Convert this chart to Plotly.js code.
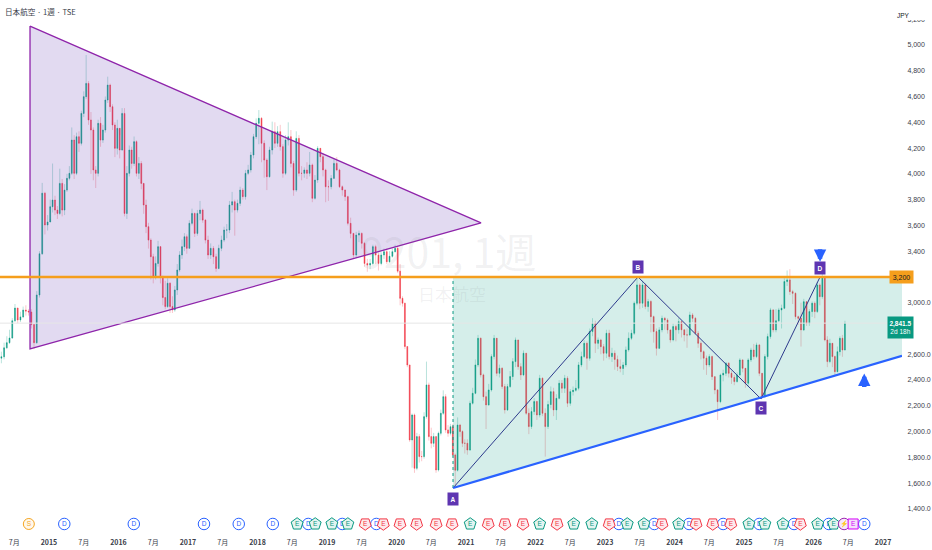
<!DOCTYPE html>
<html><head><meta charset="utf-8">
<script src="https://cdn.plot.ly/plotly-3.0.0.min.js"></script>
<style>html,body{margin:0;padding:0;background:#fff}#c{width:932px;height:550px}</style></head>
<body><div id="c"></div>
<script>
const FONT='"Liberation Sans","Noto Sans CJK JP",sans-serif';
const CJK='"Noto Sans CJK JP","Noto Sans",sans-serif';
// weekly price series (grouped per calendar year)
const c2014=[2580,2650,2690,2726,2860,2959,2866,2890,2943,2935,2928,2830,2690,3060,3380,3850,3603,3626];
const h2014=[2620,2690,2740,2790,2880,2990,2960,2930,2970,2980,2950,2950,2830,3090,3400,3930,3860,3680];
const l2014=[2530,2560,2640,2680,2720,2850,2840,2850,2880,2900,2900,2800,2640,2680,3040,3370,3530,3560];
const c2015=[3745,3797,3719,3693,3926,3719,3874,3965,4004,4262,4004,4288,4237,4469,4599,4702,4418,4340,4030,4004,4392,4262,4340,4573,4689,4521,4379,4198,4353];
const h2015=[3800,4080,3830,3750,4040,3960,3920,4000,4060,4360,4300,4320,4330,4490,4640,4922,4720,4480,4360,4060,4420,4440,4380,4600,4754,4700,4540,4400,4420];
const l2015=[3650,3700,3680,3650,3680,3670,3680,3860,3950,3990,3960,3990,4170,4220,4440,4580,4380,4000,3950,3890,3980,4210,4240,4320,4550,4480,4340,4130,4150];
const c2016=[4185,4469,3693,4004,4185,4081,4250,4004,4081,3926,3758,3590,3486,3357,3202,3305,3435,3202,3040,2970,3151,2970,2944,3099,3254,3370,3435,3512,3422];
const h2016=[4300,4510,4510,4060,4220,4210,4290,4260,4130,4100,3800,3800,3620,3500,3380,3360,3480,3440,3210,3170,3190,3160,3050,3130,3300,3400,3490,3540,3530];
const l2016=[4120,4180,3670,3650,3980,4040,4060,3980,3960,3880,3690,3540,3420,3180,3150,3180,3280,3150,2980,2950,2960,2920,2920,2930,3060,3240,3340,3400,3380];
const c2017=[3616,3693,3538,3693,3719,3641,3486,3370,3422,3357,3266,3422,3486,3564,3564,3758,3784,3719,3771,3874,3823,4004,4030,4146,4288,4392];
const h2017=[3640,3730,3700,3720,3790,3730,3650,3520,3460,3440,3380,3450,3520,3590,3610,3790,3860,3800,3800,3900,3890,4030,4070,4170,4310,4430];
const l2017=[3420,3600,3510,3520,3640,3620,3460,3340,3340,3300,3240,3260,3400,3470,3500,3540,3700,3520,3700,3750,3800,3800,3990,4010,4120,4270];
const c2018=[4431,4237,4107,3978,4185,4327,4237,4327,4211,4004,4262,4288,4081,3874,4275,4004,4004,4030,4004,4069,3810,3952,4198,4133,4030,3900];
const h2018=[4495,4440,4260,4120,4210,4405,4400,4370,4380,4230,4300,4400,4340,4100,4330,4300,4060,4050,4090,4170,4080,3990,4215,4200,4160,4040];
const l2018=[4230,4090,3970,3874,3970,4150,4200,4210,4180,3970,3990,4220,4050,3830,3860,3980,3950,3970,3960,3980,3780,3800,3930,4090,3980,3780];
const c2019=[3900,3965,4081,4030,3900,3875,3823,3616,3538,3370,3525,3538,3461,3305,3292,3305,3435,3370,3305,3370,3396,3318,3360,3396,3422];
const h2019=[3950,3990,4120,4130,4040,3910,3870,3830,3660,3540,3550,3560,3545,3470,3340,3340,3450,3450,3390,3390,3420,3420,3400,3420,3450];
const l2019=[3790,3880,3960,4020,3890,3830,3790,3600,3500,3340,3350,3470,3420,3280,3240,3260,3290,3300,3250,3290,3340,3300,3310,3350,3390];
const c2020=[3245,3034,2996,2660,2517,1935,2129,1715,1961,1806,1806,2116,2362,1961,1909,1961,1702,1987,2142,2271,2013,1987,2038,1819,1700,2051,2000,1909,1909];
const h2020=[3440,3300,3050,3000,2660,2517,2140,2140,1990,1980,1850,2150,2543,2380,2030,1990,1960,2000,2170,2320,2290,2050,2060,2060,1830,2110,2060,2010,1940];
const l2020=[3230,2980,2970,2640,2500,1920,1720,1680,1700,1760,1770,1790,2100,1930,1870,1880,1680,1690,1970,2130,1990,1960,1970,1800,1565,1690,1960,1880,1830];
const c2021=[1857,2220,2297,2517,2724,2440,2271,2207,2323,2582,2724,2452,2491,2349,2168,2349,2427,2543,2711,2504,2440,2608,2142,2039,2155,2233];
const h2021=[1940,2240,2340,2560,2750,2730,2450,2310,2370,2600,2750,2720,2520,2500,2370,2370,2470,2570,2730,2710,2530,2630,2610,2180,2190,2260];
const l2021=[1820,1850,2210,2290,2500,2420,2240,2020,2200,2310,2560,2430,2420,2330,2140,2160,2340,2400,2500,2480,2400,2430,2130,1980,2020,2130];
const c2022=[2129,2414,2142,2039,2210,2310,2168,2258,2375,2336,2414,2220,2310,2320,2336,2517,2582,2685,2569,2776,2840,2685,2711,2659,2608];
const h2022=[2240,2440,2420,2180,2240,2350,2340,2290,2400,2400,2440,2430,2330,2350,2400,2540,2620,2710,2700,2800,2880,2860,2730,2720,2680];
const l2022=[2090,2110,2120,1806,2020,2180,2120,2090,2250,2300,2300,2190,2200,2280,2310,2320,2500,2570,2480,2550,2740,2610,2640,2600,2550];
const c2023=[2763,2582,2608,2560,2504,2490,2517,2634,2724,2763,2996,3138,2996,3138,2970,3009,2892,2776,2646,2789,2879,2866,2789,2711,2815];
const h2023=[2790,2790,2650,2630,2590,2560,2540,2660,2770,2790,3010,3190,3150,3170,3150,3030,3020,2900,2800,2810,2900,2890,2880,2740,2840];
const l2023=[2570,2560,2540,2480,2470,2460,2440,2500,2620,2710,2750,2980,2950,2960,2950,2930,2770,2690,2590,2640,2770,2790,2760,2690,2700];
const c2024=[2790,2853,2790,2750,2750,2905,2879,2763,2685,2620,2570,2517,2582,2426,2323,2232,2439,2452,2530,2452,2420,2388,2439,2556,2491];
const h2024=[2830,2880,2860,2790,2800,2930,2920,2890,2780,2700,2630,2590,2600,2590,2430,2330,2450,2480,2540,2540,2470,2440,2460,2570,2560];
const l2024=[2700,2760,2730,2700,2650,2740,2850,2750,2650,2560,2480,2440,2500,2400,2290,2090,2220,2390,2430,2420,2370,2360,2380,2430,2460];
const c2025=[2375,2556,2633,2582,2672,2452,2271,2582,2737,2944,2789,2860,2944,2957,3164,3177,3086,3073,2892,2879,2789,3008,2840,2931,2996];
const h2025=[2480,2570,2650,2680,2690,2680,2452,2600,2760,2960,2950,2950,2960,2985,3190,3250,3260,3100,3080,2900,3000,3030,3000,2950,3010];
const l2025=[2340,2350,2540,2560,2570,2430,2260,2260,2560,2720,2770,2770,2850,2800,2950,3130,3060,2990,2870,2830,2660,2780,2820,2820,2890];
const c2026=[2931,3138,3047,3202,2711,2543,2685,2582,2465,2620,2724,2633,2841];
const h2026=[3010,3160,3150,3225,3210,2740,2720,2640,2590,2660,2740,2750,2860];
const l2026=[2880,2920,2980,3030,2700,2500,2530,2500,2440,2460,2590,2580,2630];
const firstOpen=2570;

// drawing tools, as [time in years, price]
const wedgeX=[2014.727,2021.216,2014.727,2014.727];
const wedgeY=[5147,3619,2641,5147];
const rangeX=[2020.813,2020.813,2027.273,2027.273,2020.813];
const rangeY=[1562,3200,3200,2587,1562];
const abcdX=[2020.813,2023.475,2025.245,2026.094];
const abcdY=[1562,3200,2253,3200];
const abcdLabels=['A','B','C','D'];
const abcdLabelPrice=[1480,3280,2180,3270];
const supportX=[2020.813,2027.273];
const supportY=[1562,2587];
const levelPrice=3200, lastPrice=2841.5;

// event markers along the bottom
const eventLevel=1283;
const sYears=[2014.71];
const dYears=[2015.22,2016.22,2017.23,2017.73,2018.22,2018.73,2019.22,2019.71,2023.20,2023.71,2024.21,2024.70,2025.22,2025.72,2026.22,2026.73];
const egYears=[2018.57,2018.83,2019.07,2019.30,2021.06,2022.06,2022.55,2022.81,2023.32,2023.56,2024.06,2025.07,2025.30,2025.56,2026.06,2026.29];
const erYears=[2019.55,2019.81,2020.05,2020.29,2020.57,2020.80,2021.32,2021.56,2021.82,2022.31,2023.06,2023.82,2024.31,2024.55,2024.81,2025.81];
const flashYears=[2026.44], epYears=[2026.57];

const xTickVals=[2014.5,2015,2015.5,2016,2016.5,2017,2017.5,2018,2018.5,2019,2019.5,2020,2020.5,2021,2021.5,2022,2022.5,2023,2023.5,2024,2024.5,2025,2025.5,2026,2026.5,2027];
const xTickText=xTickVals.map(v=>v%1?'7月':'<b>'+v+'</b>');
const yTickVals=[5200,5000,4800,4600,4400,4200,4000,3800,3600,3400,3000,2600,2400,2200,2000,1800,1600,1400];
const yTickText=['5,200','5,000','4,800','4,600','4,400','4,200','4,000','3,800','3,600','3,400','3,000.0','2,600.0','2,400.0','2,200.0','2,000.0','1,800.0','1,600.0','1,400.0'];

const segs=[[2014.295,2015,c2014,h2014,l2014],[2015,2016,c2015,h2015,l2015],[2016,2017,c2016,h2016,l2016],[2017,2018,c2017,h2017,l2017],[2018,2019,c2018,h2018,l2018],[2019,2020,c2019,h2019,l2019],[2020,2021,c2020,h2020,l2020],[2021,2022,c2021,h2021,l2021],[2022,2023,c2022,h2022,l2022],[2023,2024,c2023,h2023,l2023],[2024,2025,c2024,h2024,l2024],[2025,2026,c2025,h2025,l2025],[2026,2026.47,c2026,h2026,l2026]];
const X=[],O=[],H=[],L=[],C=[];
let prev=firstOpen;
segs.forEach(([a,b,c,h,l])=>c.forEach((v,i)=>{X.push(a+(b-a)*(i+0.5)/c.length);O.push(prev);C.push(v);H.push(h[i]);L.push(l[i]);prev=v;}));
const topB=O.map((o,i)=>Math.max(o,C[i])), botB=O.map((o,i)=>Math.min(o,C[i]));
const UP='#089981', DN='#f23645';
const xR=[2014.295,2027.273], yR=[1213,5349];

function evt(xs,sym,angle,line,fill,txt,size){return {x:xs,y:xs.map(()=>eventLevel),type:'scatter',mode:'markers+text',cliponaxis:false,
  marker:{symbol:sym,angle:angle,size:size,color:fill,line:{color:line,width:1}},text:xs.map(()=>txt),textposition:'middle center',textfont:{family:FONT,size:6.5,color:line},hoverinfo:'skip'};}

const data=[
 {x:rangeX,y:rangeY,type:'scatter',mode:'lines',fill:'toself',fillcolor:'rgba(8,153,129,0.17)',line:{width:0},hoverinfo:'skip'},
 {x:rangeX.slice(0,3),y:rangeY.slice(0,3),type:'scatter',mode:'lines',line:{color:'#089981',width:1,dash:'dot'},hoverinfo:'skip'},
 {x:wedgeX,y:wedgeY,type:'scatter',mode:'lines',fill:'toself',fillcolor:'rgba(103,58,183,0.19)',line:{color:'#8e24aa',width:1.3},hoverinfo:'skip'},
 {x:xR,y:[lastPrice,lastPrice],type:'scatter',mode:'lines',line:{color:'#e6e6e6',width:1},hoverinfo:'skip'},
 {x:X,open:O,high:H,low:L,close:C,type:'candlestick',whiskerwidth:0,hoverinfo:'skip',
  increasing:{line:{color:'rgba(8,153,129,0.28)',width:1},fillcolor:'rgba(8,153,129,0.0)'},
  decreasing:{line:{color:'rgba(242,54,69,0.28)',width:1},fillcolor:'rgba(242,54,69,0.0)'}},
 {x:X,open:O,high:topB,low:botB,close:C,type:'candlestick',whiskerwidth:0,hoverinfo:'skip',
  increasing:{line:{color:UP,width:0.3},fillcolor:UP},
  decreasing:{line:{color:DN,width:0.3},fillcolor:DN}},
 {x:abcdX,y:abcdY,type:'scatter',mode:'lines',line:{color:'#2d3a8c',width:1},hoverinfo:'skip'},
 {x:supportX,y:supportY,type:'scatter',mode:'lines',line:{color:'#2962ff',width:2.2},hoverinfo:'skip'},
 {x:xR,y:[levelPrice,levelPrice],type:'scatter',mode:'lines',line:{color:'#f59e1c',width:2.6},hoverinfo:'skip'},
 evt(sYears,'circle',0,'#f5a623','#fff8ec','S',11),
 evt(dYears,'circle',0,'#2962ff','#ffffff','D',11.5),
 evt(egYears,'pentagon',0,'#089981','#e4f4f0','E',12.5),
 evt(erYears,'pentagon',180,'#f23645','#fdeaec','E',12.5),
 evt(flashYears,'circle',0,'#9c27b0','#f7e9fa','⚡',11.5),
 evt(epYears,'square',0,'#d500f9','#f3e0fb','E',10)
];

const pw=902, ph=533;
const paperX=px=>px/pw, paperY=py=>1-py/ph;
const annotations=[
 {xref:'paper',yref:'paper',x:paperX(3),y:paperY(11.5),xanchor:'left',yanchor:'middle',text:'日本航空 · 1週 · TSE',showarrow:false,font:{family:CJK,size:7.6,color:'#3a3e4a'}},
 {xref:'paper',yref:'paper',x:paperX(448),y:paperY(250),text:'9201, 1週',showarrow:false,font:{family:CJK,size:41,color:'rgba(120,123,134,0.10)'}},
 {xref:'paper',yref:'paper',x:paperX(452),y:paperY(293),text:'日本航空',showarrow:false,font:{family:CJK,size:17,color:'rgba(120,123,134,0.10)'}},
 {xref:'paper',yref:'paper',x:paperX(912),y:paperY(10),text:'JPY',showarrow:false,font:{family:FONT,size:6.5,color:'#131722'}},
 {xref:'paper',yref:'y',x:paperX(914),y:levelPrice,text:'3,200',showarrow:false,bgcolor:'#f59e1c',width:21,height:10,font:{family:FONT,size:7,color:'#131722'}},
 {xref:'paper',yref:'y',x:paperX(914),y:lastPrice-36,text:'<b>2,841.5</b><br>2d 18h',showarrow:false,bgcolor:UP,width:23,height:19,font:{family:FONT,size:6.5,color:'#ffffff'}},
 ...abcdX.map((x,i)=>({x:x,y:abcdLabelPrice[i],text:'<b>'+abcdLabels[i]+'</b>',showarrow:false,bgcolor:'#5e35b1',borderpad:2.5,font:{family:FONT,size:6.5,color:'#ffffff'}})),
 {x:abcdX[3],y:3317,ax:0,ay:-14,text:'',showarrow:true,arrowhead:2,arrowwidth:4.5,arrowsize:0.55,arrowcolor:'#2962ff'},
 {x:2026.73,y:2450,ax:0,ay:15,text:'',showarrow:true,arrowhead:2,arrowwidth:4.5,arrowsize:0.55,arrowcolor:'#2962ff'}
];
const layout={width:932,height:550,margin:{l:0,r:30,t:0,b:17},paper_bgcolor:'#fff',plot_bgcolor:'#fff',showlegend:false,boxgap:0.5,dragmode:false,
 xaxis:{range:xR,type:'linear',rangeslider:{visible:false},tickmode:'array',tickvals:xTickVals,ticktext:xTickText,showgrid:false,zeroline:false,showline:false,ticks:'outside',ticklen:3,tickcolor:'rgba(0,0,0,0)',tickangle:0,tickfont:{family:CJK,size:7,color:'#3a3e4a'}},
 yaxis:{range:yR,side:'right',tickmode:'array',tickvals:yTickVals,ticktext:yTickText,showgrid:false,zeroline:false,showline:false,ticks:'outside',ticklen:3,tickcolor:'rgba(0,0,0,0)',tickfont:{family:FONT,size:7,color:'#3a3e4a'}},
 shapes:[{type:'rect',layer:'above',xref:'paper',yref:'paper',x0:1.001,x1:1.034,y0:paperY(20),y1:1,fillcolor:'#ffffff',line:{width:0}}],
 annotations:annotations};
Plotly.newPlot('c',data,layout,{displayModeBar:false,staticPlot:true});
</script></body></html>
